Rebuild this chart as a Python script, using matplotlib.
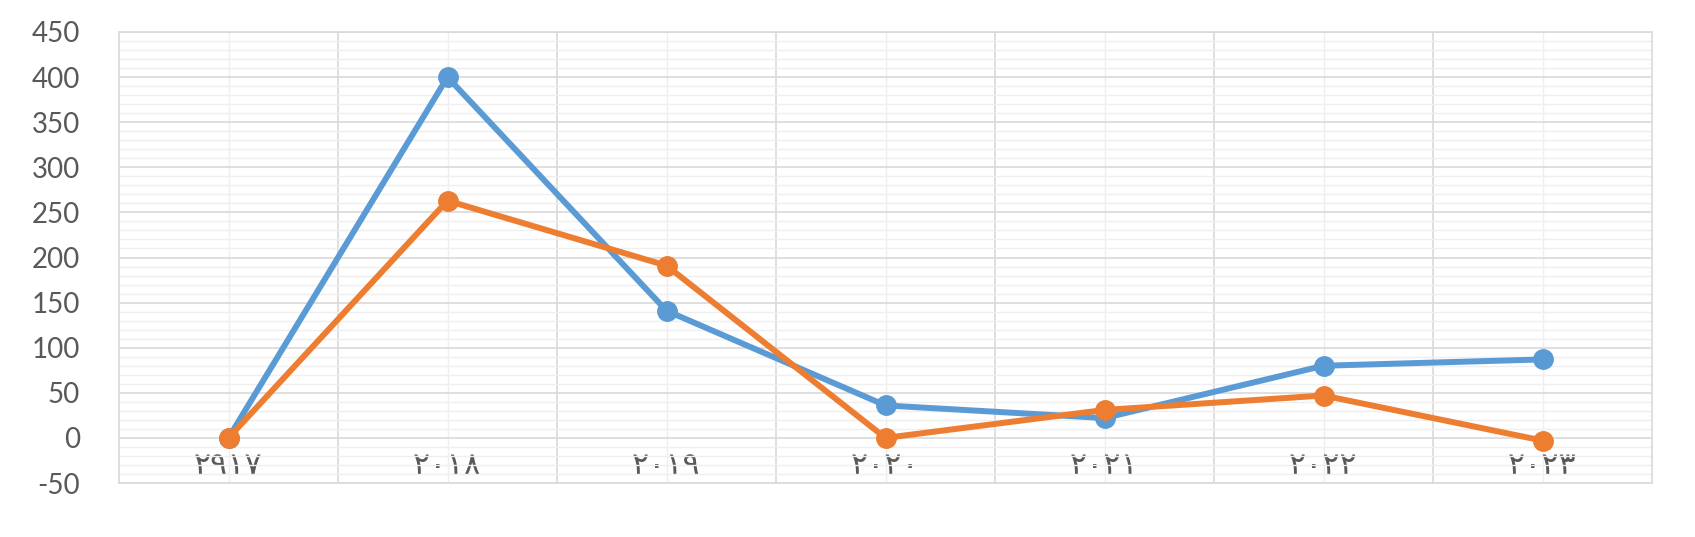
import matplotlib.pyplot as plt
from matplotlib.ticker import MultipleLocator

plt.rcParams["axes.unicode_minus"] = False

years = ["٢٩١٧", "٢٠١٨", "٢٠١٩", "٢٠٢٠", "٢٠٢١", "٢٠٢٢", "٢٠٢٣"]
blue_vals = [0, 400, 141, 36, 22, 80, 87]
orange_vals = [0, 263, 191, 0, 31, 47, -3]

fig = plt.figure(figsize=(16.95, 5.37), dpi=100)
ax = fig.add_axes([119 / 1695, 1 - 483 / 537, (1652 - 119) / 1695, (483 - 32) / 537])

x = range(len(years))
ax.plot(x, blue_vals, color="#5B9BD5", lw=4.3, marker="o", ms=14, zorder=3)
ax.plot(x, orange_vals, color="#ED7D31", lw=4.3, marker="o", ms=14, zorder=4)

ax.set_xlim(-0.5, len(years) - 0.5)
ax.set_ylim(-50, 450)
ax.yaxis.set_major_locator(MultipleLocator(50))
ax.yaxis.set_minor_locator(MultipleLocator(10))
ax.set_xticks(list(x))
ax.set_xticklabels(years, family=["DejaVu Sans"], fontsize=23, color="#595959")
ax.set_xticks([i + 0.5 for i in x][:-1], minor=True)

ax.grid(which="major", axis="y", color="#d9d9d9", lw=1.2)
ax.grid(which="minor", axis="y", color="#efefef", lw=1.0)
ax.grid(which="minor", axis="x", color="#d9d9d9", lw=1.2)
ax.grid(which="major", axis="x", color="#efefef", lw=1.0)
ax.set_axisbelow(True)

for s in ax.spines.values():
    s.set_color("#d9d9d9")
    s.set_linewidth(1.2)

ax.tick_params(axis="both", which="both", length=0)
ax.tick_params(axis="x", pad=-23)
ax.tick_params(axis="y", pad=28, labelsize=20, labelcolor="#595959")
for lab in ax.get_yticklabels():
    lab.set_family("Lato")

fig.savefig("out.png", dpi=100, facecolor="white")
